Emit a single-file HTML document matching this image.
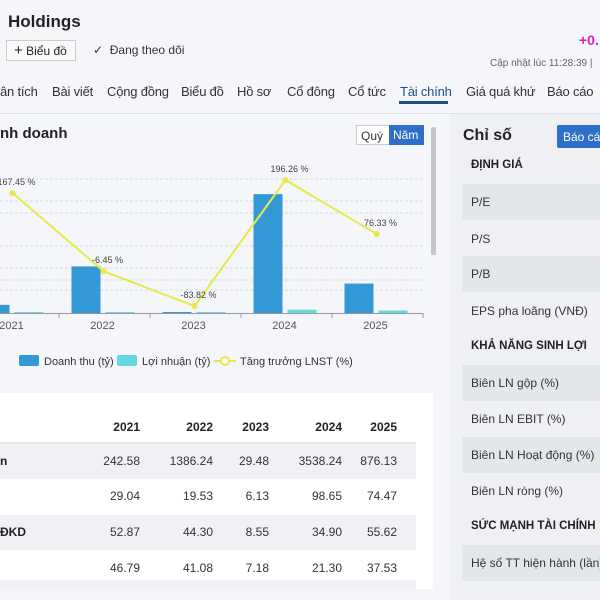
<!DOCTYPE html>
<html><head><meta charset="utf-8"><style>
*{margin:0;padding:0;box-sizing:border-box}
body{width:600px;height:600px;overflow:hidden;background:#f4f6f9;font-family:"Liberation Sans",sans-serif;color:#222;position:relative}
.a{position:absolute;white-space:nowrap}
.tab{position:absolute;top:84px;font-size:13px;color:#333;white-space:nowrap;letter-spacing:-0.2px}
.rp{position:absolute;left:450px;top:114px;width:150px;height:486px;background:#eef0f3}
.band{position:absolute;left:462px;width:138px;height:36px;background:#e3e6eb}
.rl{position:absolute;left:471px;font-size:12px;color:#333;white-space:nowrap}
.rh{position:absolute;left:471px;font-size:11.5px;font-weight:bold;color:#222;white-space:nowrap}
</style></head><body>
<div class="a" style="left:8px;top:12px;font-size:17px;font-weight:bold">Holdings</div>
<div class="a" style="left:6px;top:40px;width:70px;height:21px;border:1px solid #ccc;background:#fafafa;font-size:12px;padding:3px 0 0 7px"><span style="font-size:15px;line-height:12px">+</span> Biểu đồ</div>
<div class="a" style="left:93px;top:43px;font-size:12px;color:#333">✓&nbsp; Đang theo dõi</div>
<div class="a" style="left:579px;top:32px;font-size:14px;font-weight:bold;color:#d020c8">+0.</div>
<div class="a" style="left:490px;top:58px;font-size:10px;color:#666">Cập nhật lúc 11:28:39 |</div>
<div class="tab" style="left:0">ân tích</div>
<div class="tab" style="left:52px">Bài viết</div>
<div class="tab" style="left:107px">Cộng đồng</div>
<div class="tab" style="left:181px">Biểu đồ</div>
<div class="tab" style="left:237px">Hồ sơ</div>
<div class="tab" style="left:287px">Cổ đông</div>
<div class="tab" style="left:348px">Cổ tức</div>
<div class="tab" style="left:400px;color:#1b4f8c">Tài chính</div>
<div class="a" style="left:399px;top:101px;width:49px;height:3px;background:#1b4f8c"></div>
<div class="tab" style="left:466px">Giá quá khứ</div>
<div class="tab" style="left:547px">Báo cáo</div>
<div class="a" style="left:0;top:113px;width:600px;height:1px;background:#dde1e6"></div>

<div class="a" style="left:0;top:125px;font-size:15px;font-weight:bold">nh doanh</div>
<div class="a" style="left:356px;top:125px;width:68px;height:20px;border:1px solid #ccc;background:#fff;font-size:12px">
<span style="position:absolute;left:4px;top:3px;color:#333">Quý</span>
<span style="position:absolute;left:32px;top:-1px;width:35px;height:20px;background:#2e6fc7;color:#fff;padding:3px 0 0 4px">Năm</span></div>
<div class="a" style="left:431px;top:127px;width:5px;height:128px;background:#c4c6c9;border-radius:2px"></div>

<svg class="a" style="left:0;top:150px" width="440" height="230" id="chart"></svg>

<div class="a" style="left:0;top:393px;width:433px;height:196px;background:#fff"></div>
<div id="table"></div>

<div class="rp"></div>
<div class="a" style="left:463px;top:127px;font-size:16px;font-weight:bold">Chỉ số</div>
<div class="a" style="left:557px;top:125px;width:50px;height:23px;background:#2e6fc7;color:#fff;font-size:12px;padding:5px 0 0 6px;border-radius:2px">Báo cáo</div>
<div class="band" style="top:184px"></div>
<div class="band" style="top:256px"></div>
<div class="band" style="top:365px"></div>
<div class="band" style="top:437px"></div>
<div class="band" style="top:545px"></div>
<div class="rh" style="top:159px">ĐỊNH GIÁ</div>
<div class="rl" style="top:195px">P/E</div>
<div class="rl" style="top:232px">P/S</div>
<div class="rl" style="top:267px">P/B</div>
<div class="rl" style="top:304px">EPS pha loãng (VNĐ)</div>
<div class="rh" style="top:340px">KHẢ NĂNG SINH LỢI</div>
<div class="rl" style="top:376px">Biên LN gộp (%)</div>
<div class="rl" style="top:412px">Biên LN EBIT (%)</div>
<div class="rl" style="top:448px">Biên LN Hoạt động (%)</div>
<div class="rl" style="top:484px">Biên LN ròng (%)</div>
<div class="rh" style="top:520px">SỨC MẠNH TÀI CHÍNH</div>
<div class="rl" style="top:556px">Hệ số TT hiện hành (lần)</div>

<script>
const years=["2021","2022","2023","2024","2025"];
const revenue=[242.58,1386.24,29.48,3538.24,876.13];
const profit=[29.04,19.53,6.13,98.65,74.47];
const growth=[167.45,-6.45,-83.82,196.26,76.33];
const growthLabels=["167.45 %","-6.45 %","-83.82 %","196.26 %","76.33 %"];
const rowLabels=["n","","ĐKD",""];
const tableRows=[["242.58","1386.24","29.48","3538.24","876.13"],["29.04","19.53","6.13","98.65","74.47"],["52.87","44.30","8.55","34.90","55.62"],["46.79","41.08","7.18","21.30","37.53"]];

const NS="http://www.w3.org/2000/svg";
const svg=document.getElementById('chart');
const OY=150;
const base=313-OY;
const xC=i=>-32+91*(i+0.5);
const yBar=v=>base-v*0.0336;
const yLine=v=>(268.3-OY)-v*0.45;
function mk(t,a){const e=document.createElementNS(NS,t);for(const k in a)e.setAttribute(k,a[k]);svg.appendChild(e);return e;}
[179,201,213,246,268,280,290].forEach(y=>{
 const l=mk('line',{x1:0,x2:422,y1:y-OY,y2:y-OY,stroke:'#d6d9de','stroke-dasharray':'3,2'});
 
 
});
years.forEach((yr,i)=>{
 const tx=xC(i)+45.5;
 const tk=mk('line',{x1:tx,x2:tx,y1:base,y2:base+5,stroke:'#999'});
 
 
 const b=mk('rect',{x:xC(i)-33,y:yBar(revenue[i]),width:29,height:base-yBar(revenue[i]),fill:'#3399d6'});
 
 
 const ph=Math.max(1,base-yBar(profit[i]));
 const p=mk('rect',{x:xC(i)+1,y:base-ph,width:29,height:ph,fill:'#67d8e0'});
 
 
 const t=mk('text',{x:xC(i)-2,y:base+16,'text-anchor':'middle','font-size':11,fill:'#555','font-family':'Liberation Sans'});
 t.textContent=yr;
 
 
});
const ax=mk('line',{x1:0,x2:423,y1:base+0.5,y2:base+0.5,stroke:'#999'});


const pts=growth.map((g,i)=>(xC(i)-1)+','+yLine(g)).join(' ');
const pl=mk('polyline',{points:pts,fill:'none',stroke:'#e8e84a','stroke-width':2});


growth.forEach((g,i)=>{
 const c=mk('circle',{cx:xC(i)-1,cy:yLine(g),r:3,fill:'#e8e84a'});
 
 
 const t=mk('text',{x:xC(i)+3,y:yLine(g)-8,'text-anchor':'middle','font-size':9,fill:'#444','font-family':'Liberation Sans'});
 t.textContent=growthLabels[i];
 
 
});
const ly=361-OY;
const l1=mk('rect',{x:19,y:ly-6,width:20,height:11,rx:2,fill:'#3399d6'});


const l2=mk('rect',{x:117,y:ly-6,width:20,height:11,rx:2,fill:'#67d8e0'});


const l3=mk('line',{x1:214,x2:236,y1:ly,y2:ly,stroke:'#e8e84a','stroke-width':2});


const l4=mk('circle',{cx:225,cy:ly,r:4,fill:'#fff',stroke:'#e8e84a','stroke-width':2});


[["Doanh thu (tỷ)",44],["Lợi nhuận (tỷ)",142],["Tăng trưởng LNST (%)",240]].forEach((d,i)=>{
 const t=mk('text',{x:d[1],y:ly+4,'font-size':11,fill:'#333','font-family':'Liberation Sans'});
 t.textContent=d[0];
 
 
});

const tb=document.getElementById('table');
const colRight=[140,213,269,342,397];
const rowY=[461,496,532,568];
function div(name,css,txt){const d=document.createElement('div');d.className='a';d.style.cssText=css;d.textContent=txt;
 
 
 tb.appendChild(d);return d;}
[444,515,580].forEach(y=>div('table-row-band','left:0;top:'+y+'px;width:416px;height:'+(y==580?9:35)+'px;background:#eff1f4',''));
div('table-header-line','left:0;top:442px;width:416px;height:2px;background:#e2e5e9','');
years.forEach((yr,i)=>div('table-header-'+yr,'left:'+(colRight[i]-60)+'px;top:420px;width:60px;text-align:right;font-size:12px;font-weight:bold;color:#222',yr));
tableRows.forEach((r,ri)=>{
 if(rowLabels[ri])div('table-row-label-'+ri,'left:0;top:'+(rowY[ri]-7)+'px;font-size:12px;font-weight:bold;color:#222',rowLabels[ri]);
 r.forEach((v,ci)=>div('table-cell-'+ri+'-'+ci,'left:'+(colRight[ci]-60)+'px;top:'+(rowY[ri]-7)+'px;width:60px;text-align:right;font-size:12px;color:#333',v));
});
</script>
</body></html>
